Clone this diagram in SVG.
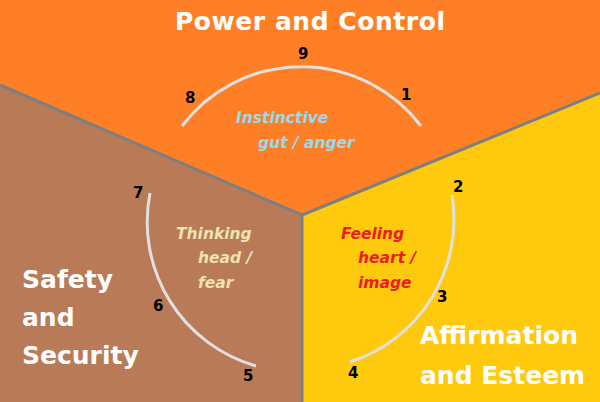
<svg xmlns="http://www.w3.org/2000/svg" width="600" height="402" viewBox="0 0 600 402">
<style>
.t{font-family:"DejaVu Sans",Verdana,sans-serif;font-weight:bold}
.big{fill:#fff;font-size:25px}
.num{fill:#000;font-size:15px}
.lab{font-size:15.5px;font-style:italic}
.arc{fill:none;stroke:#e0e0e0;stroke-width:3}
</style>
<g id="power"><polygon points="0,0 600,0 600,93 302,215 0,85" fill="#FF7F27"/><text class="t big" x="310" y="30" text-anchor="middle" textLength="270">Power and Control</text></g>
<g id="safety"><polygon points="0,85 302,215 302,402 0,402" fill="#B97A57"/><text class="t big" x="22" y="288">Safety</text><text class="t big" x="22" y="326">and</text><text class="t big" x="22" y="364">Security</text></g>
<g id="affirm"><polygon points="302,215 600,93 600,402 302,402" fill="#FFC90E"/><text class="t big" x="420" y="344">Affirmation</text><text class="t big" x="420" y="384">and Esteem</text></g>
<g id="lines" stroke="#7f7f7f" stroke-width="3" fill="none"><polyline points="0,85 302,215 600,93"/><line x1="302" y1="215" x2="302" y2="402"/></g>
<g id="connectors">
<path class="arc" d="M182,126 A150,150 0 0 1 421,126"/>
<path class="arc" d="M150,193 A150,150 0 0 0 256,366"/>
<path class="arc" d="M452,195 A150,150 0 0 1 350,362"/>
</g>
<g id="labels">
<text class="t lab" fill="#99D9EA"><tspan x="236" y="123">Instinctive</tspan><tspan x="258" y="148">gut / anger</tspan></text>
<text class="t lab" fill="#EFE4B0"><tspan x="176" y="239">Thinking</tspan><tspan x="198" y="263">head /</tspan><tspan x="198" y="288">fear</tspan></text>
<text class="t lab" fill="#ED1C24"><tspan x="341" y="239">Feeling</tspan><tspan x="358" y="263">heart /</tspan><tspan x="358" y="288">image</tspan></text>
</g>
<g id="numbers" class="t num">
<text x="298" y="59">9</text><text x="185" y="103">8</text><text x="401" y="100">1</text>
<text x="453" y="192">2</text><text x="437" y="302">3</text><text x="348" y="378">4</text>
<text x="243" y="381">5</text><text x="153" y="311">6</text><text x="133" y="198">7</text>
</g>
</svg>
